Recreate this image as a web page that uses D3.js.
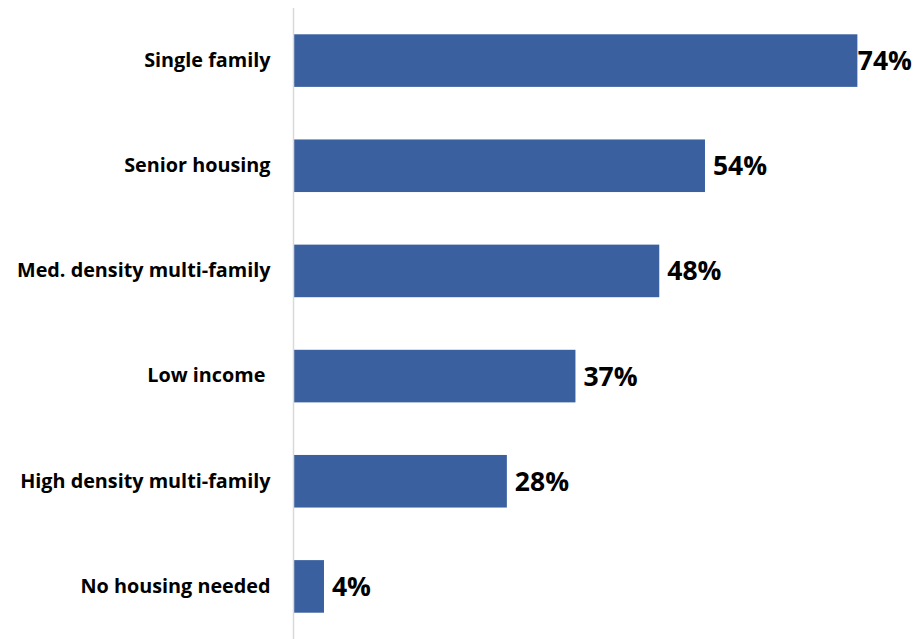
<!DOCTYPE html>
<html>
<head>
<meta charset="utf-8">
<script src="https://cdn.jsdelivr.net/npm/d3@7"></script>
<style>
  html, body { margin: 0; padding: 0; background: #ffffff; }
  svg text { white-space: pre; }
</style>
</head>
<body>
<svg id="chart" width="917" height="639"></svg>
<script>
// Housing types and share of responses (%)
const categories = [
  "Single family",
  "Senior housing",
  "Med. density multi-family",
  "Low income ",
  "High density multi-family",
  "No housing needed"
];
const values = [74, 54, 48, 37, 28, 4];
const valueLabels = ["74%", "54%", "48%", "37%", "28%", "4%"];

const width = 917, height = 639;
const margin = { top: 8, right: 5, bottom: 0, left: 293.5 };
const fontFamily = "'Open Sans', Lato, 'Liberation Sans', sans-serif";

const svg = d3.select("#chart");

const x = d3.scaleLinear()
  .domain([0, 100])
  .range([margin.left, margin.left + 762]);

const y = d3.scaleBand()
  .domain(categories)
  .range([margin.top, height - margin.bottom])
  .paddingInner(0.5)
  .paddingOuter(0.25);

const data = categories.map((c, i) => ({ cat: c, value: values[i], label: valueLabels[i] }));

// Bars
svg.append("g")
  .selectAll("rect")
  .data(data)
  .join("rect")
  .attr("x", x(0))
  .attr("y", d => y(d.cat))
  .attr("width", d => x(d.value) - x(0))
  .attr("height", y.bandwidth())
  .attr("fill", "#3a60a0");

// Vertical category axis
const axis = svg.append("g")
  .attr("transform", `translate(${x(0)},0)`)
  .call(d3.axisLeft(y).tickSize(0).tickPadding(23));
axis.select(".domain")
  .attr("stroke", "#d9d9d9")
  .attr("stroke-width", 1.5)
  .attr("d", `M0,${margin.top}V${height}`);
axis.selectAll("text")
  .attr("font-family", fontFamily)
  .attr("font-weight", "bold")
  .attr("font-size", 19.8)
  .attr("fill", "#000");

// Value labels, kept inside the right edge
svg.append("g")
  .selectAll("text")
  .data(data)
  .join("text")
  .attr("y", d => y(d.cat) + y.bandwidth() / 2)
  .attr("dy", "0.36em")
  .attr("font-family", fontFamily)
  .attr("font-weight", "bold")
  .attr("font-size", 26.5)
  .attr("fill", "#000")
  .text(d => d.label)
  .attr("x", function (d) {
    const w = this.getComputedTextLength();
    return Math.min(x(d.value) + 8, width - margin.right - w);
  });
</script>
</body>
</html>
